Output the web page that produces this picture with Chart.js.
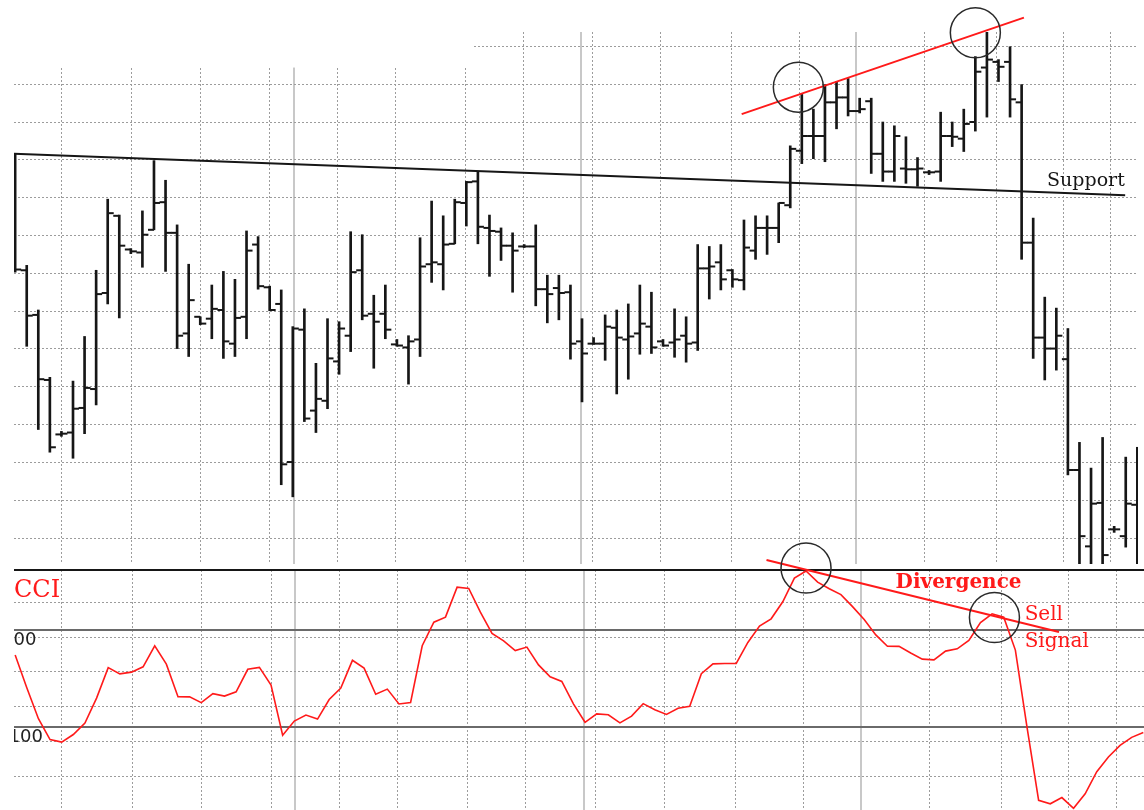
<!DOCTYPE html>
<html>
<head>
<meta charset="utf-8">
<title>Price bars with CCI divergence</title>
<script src="https://cdn.jsdelivr.net/npm/chart.js@4.4.1/dist/chart.umd.min.js"></script>
<style>
  html, body { margin: 0; padding: 0; background: #fff; }
  #wrap { position: relative; width: 1144px; height: 810px; overflow: hidden; }
  #priceChart { position: absolute; left: 0; top: 0; }
  #cciChart { position: absolute; left: 0; top: 520px; }
</style>
</head>
<body>
<div id="wrap">
  <canvas id="priceChart" width="1144" height="570"></canvas>
  <canvas id="cciChart" width="1144" height="290"></canvas>
</div>
<script>
// daily bars, index 0..97
const highs = [111.6, 82.1, 70.3, 52.5, 38.2, 51.5, 63.3, 80.8, 99.6, 95.4,
  86.5, 96.5, 109.8, 104.6, 92.8, 82.4, 68.5, 76.9, 80.5, 78.4,
  91.2, 89.7, 76.6, 75.6, 65.9, 70.6, 56.2, 68.0, 67.2, 91.0,
  90.2, 74.2, 76.9, 62.5, 63.5, 89.4, 99.1, 95.2, 99.6, 104.3,
  106.9, 95.4, 92.0, 90.7, 87.6, 92.8, 79.5, 79.5, 76.9, 68.0,
  63.0, 69.0, 70.3, 71.9, 76.9, 75.0, 62.5, 70.6, 68.5, 87.6,
  87.1, 87.6, 81.0, 94.1, 95.2, 95.2, 98.6, 113.7, 127.3, 123.4,
  129.9, 130.7, 131.5, 126.3, 126.3, 120.0, 119.0, 116.1, 110.6, 107.2,
  122.6, 120.0, 123.4, 137.3, 144.3, 136.5, 139.9, 129.9, 94.6, 73.7,
  70.8, 65.4, 35.3, 28.5, 36.6, 13.1, 31.4, 34.0];
const lows = [80.3, 60.7, 38.7, 32.7, 36.9, 31.1, 37.6, 45.2, 71.9, 68.2,
  85.2, 81.6, 91.5, 80.5, 60.1, 58.0, 66.4, 62.7, 57.5, 58.0,
  62.7, 75.8, 70.1, 24.1, 20.9, 40.8, 37.9, 44.2, 53.3, 59.3,
  67.7, 54.9, 62.7, 60.7, 50.7, 58.0, 77.6, 75.6, 87.8, 92.5,
  87.8, 79.2, 83.4, 75.0, 86.8, 71.4, 66.9, 67.7, 57.3, 46.0,
  61.2, 57.0, 48.1, 52.0, 58.6, 58.8, 60.7, 57.8, 56.5, 59.6,
  73.2, 75.6, 76.3, 75.6, 83.7, 85.0, 88.1, 97.3, 109.0, 110.3,
  109.5, 118.2, 121.6, 122.4, 106.4, 104.3, 104.3, 103.8, 103.0, 106.1,
  104.3, 113.5, 112.2, 117.6, 121.3, 130.7, 121.3, 83.7, 57.5, 51.8,
  54.4, 26.7, 0.5, 0.2, 0.5, 11.5, 7.6, 0.5];
const opens = [110.9, 80.8, 69.0, 51.8, 37.4, 37.9, 44.4, 49.4, 74.8, 95.2,
  86.3, 85.5, 91.5, 98.8, 90.7, 64.1, 68.5, 68.0, 70.3, 61.4,
  68.5, 87.6, 76.3, 71.9, 30.1, 65.1, 43.7, 46.3, 56.7, 63.5,
  80.8, 69.3, 69.3, 61.2, 60.4, 62.5, 82.4, 82.4, 87.8, 98.6,
  104.3, 92.0, 91.0, 87.3, 87.1, 87.1, 75.8, 76.1, 75.0, 62.0,
  61.4, 61.4, 65.6, 62.5, 64.1, 65.9, 62.0, 61.7, 63.5, 61.7,
  81.3, 82.9, 80.8, 78.2, 86.0, 92.0, 92.0, 98.0, 112.4, 116.3,
  116.3, 125.2, 126.5, 122.9, 125.5, 111.6, 106.9, 107.7, 107.5, 106.7,
  106.9, 116.3, 115.6, 120.0, 134.4, 135.9, 135.9, 125.2, 88.1, 63.0,
  60.1, 57.3, 28.0, 7.8, 19.3, 12.3, 10.5, 18.8];
const closes = [81.0, 68.8, 52.0, 34.0, 37.6, 44.2, 49.7, 74.5, 95.9, 87.3,
  85.8, 90.2, 98.6, 90.7, 63.5, 72.9, 66.7, 70.6, 62.0, 68.2,
  86.0, 76.6, 70.3, 29.5, 65.4, 41.6, 46.8, 57.5, 65.4, 80.3,
  68.8, 67.2, 65.1, 60.9, 62.0, 81.8, 82.9, 87.6, 98.8, 104.1,
  92.3, 91.2, 87.3, 86.0, 87.1, 75.8, 74.5, 74.8, 61.4, 58.8,
  61.4, 65.9, 63.0, 63.3, 66.7, 60.4, 60.9, 62.5, 61.4, 81.3,
  81.8, 78.4, 78.4, 86.8, 92.0, 92.0, 98.6, 112.9, 116.3, 116.3,
  125.2, 126.5, 122.9, 123.4, 111.6, 106.9, 116.3, 107.5, 107.7, 106.7,
  116.3, 116.1, 119.5, 133.3, 136.5, 134.6, 126.0, 88.1, 63.0, 60.1,
  63.5, 28.0, 10.5, 19.1, 5.5, 12.3, 19.1, 5.8];

// commodity channel index, same bars
const cci = [48.5, -19, -82.7, -125.8, -130.9, -115.3, -91.8, -40.2, 22.7, 9.7,
  13.4, 24.3, 67.4, 29.9, -37.5, -37.7, -49.5, -31.1, -36.1, -27.2,
  19.2, 23.1, -13.4, -116.9, -87.6, -75.3, -83.5, -43.1, -19.4, 37.7,
  21.7, -32.4, -21.7, -52.4, -49.3, 67.8, 116.3, 126.8, 188.5, 186,
  137.1, 93.4, 77.9, 57.9, 65, 28.2, 3.9, -5.8, -52, -90.1,
  -72.8, -74.6, -91.3, -77.3, -51.6, -64.1, -73.8, -61.2, -57.1, 10.3,
  30.3, 31.1, 31.3, 74.6, 108.5, 123.3, 158.4, 207.2, 222, 199,
  185.2, 173.2, 148.5, 122.1, 90.1, 66.6, 66.4, 52.8, 40.2, 38.6,
  56.7, 61.4, 78.8, 115.5, 133.6, 126.8, 58.8, -100, -251.1, -258.2,
  -245.4, -267.6, -237.7, -192, -161.5, -137.7, -121.2, -111.3];

// grid positions (bar index / value)
const weekGrid = [4.0, 10.1, 16.0, 22.0, 27.9, 32.9, 38.9, 43.9, 49.9, 55.8, 61.9, 67.8, 78.6, 84.8, 90.6, 94.7];
const monthGrid = [24.1, 48.9, 72.7];
const priceGrid = [10, 20, 30, 40, 50, 60, 70, 80, 90, 100, 110, 120, 130, 140];
const cciGrid = [156, 85, 14, -58, -130, -201];
const cciLevels = [100, -100];

// drawn studies, [bar index, value]
const supportLine = [[-0.1, 111.6], [95.95, 100.65]];
const topTrend = [[62.8, 122.1], [87.2, 147.6]];
const topCircles = [[67.7, 129.2], [83.0, 143.6]];
const cciTrend = [[64.6, 244.6], [89.75, 96.1]];
const cciCircles = [[68.0, 228.1], [84.2, 126.0]];

const INK = '#161616';
const RED = '#ff1a1a';
const GRID = '#9c9c9c';
const tickShift = 0.26;

const isMonth = c => c.tick && monthGrid.includes(c.tick.value);

function xAxis() {
  return {
    type: 'linear', min: -0.1, max: 97.06,
    offset: false,
    afterBuildTicks: s => { s.ticks = weekGrid.concat(monthGrid).sort((a, b) => a - b).map(v => ({value: v})); },
    ticks: {display: false},
    grid: {
      offset: false,
      drawTicks: false,
      color: c => isMonth(c) ? '#c8c8c8' : GRID,
      lineWidth: c => isMonth(c) ? 2 : 1
    },
    border: {display: false, dash: c => isMonth(c) ? [] : [2, 2]}
  };
}

const overlay = {
  id: 'overlay',
  beforeDatasetsDraw(chart, args, opts) {
    if (!opts.cover) return;
    const {ctx, chartArea} = chart;
    const x = chart.scales.x.getPixelForValue(opts.cover[0]);
    const y = chart.scales.y.getPixelForValue(opts.cover[1]);
    ctx.save();
    ctx.fillStyle = '#fff';
    ctx.fillRect(chartArea.left - 1, chartArea.top - 1, x - chartArea.left + 1, y - chartArea.top + 1);
    ctx.restore();
  },
  afterDraw(chart, args, opts) {
    const {ctx, chartArea} = chart;
    const px = v => chart.scales.x.getPixelForValue(v);
    const py = v => chart.scales.y.getPixelForValue(v);
    ctx.save();
    if (opts.topRule) {
      ctx.strokeStyle = INK;
      ctx.lineWidth = 2;
      ctx.beginPath();
      ctx.moveTo(chartArea.left, chartArea.top);
      ctx.lineTo(chartArea.right, chartArea.top);
      ctx.stroke();
    }
    (opts.lines || []).forEach(l => {
      ctx.strokeStyle = l.color;
      ctx.lineWidth = l.width;
      ctx.beginPath();
      ctx.moveTo(px(l.pts[0][0]), py(l.pts[0][1]));
      ctx.lineTo(px(l.pts[1][0]), py(l.pts[1][1]));
      ctx.stroke();
    });
    (opts.circles || []).forEach(c => {
      ctx.strokeStyle = '#2a2a2a';
      ctx.lineWidth = 1.5;
      ctx.beginPath();
      ctx.arc(px(c[0]), py(c[1]), 25, 0, Math.PI * 2);
      ctx.stroke();
    });
    (opts.texts || []).forEach(t => {
      ctx.font = t.font;
      ctx.fillStyle = t.color;
      ctx.textAlign = 'left';
      ctx.textBaseline = 'alphabetic';
      ctx.fillText(t.text, px(t.at[0]), py(t.at[1]));
    });
    if (opts.levelLabels) {
      ctx.beginPath();
      ctx.rect(chartArea.left, chartArea.top, chartArea.right - chartArea.left, chartArea.bottom - chartArea.top);
      ctx.clip();
      ctx.font = '18px "DejaVu Sans"';
      ctx.fillStyle = '#222';
      ctx.textAlign = 'left';
      ctx.textBaseline = 'alphabetic';
      opts.levelLabels.forEach(v => ctx.fillText(String(v), chartArea.left - 12, py(v) + 15));
    }
    ctx.restore();
  }
};

new Chart(document.getElementById('priceChart'), {
  type: 'bar',
  data: {
    datasets: [
      {
        type: 'bar',
        data: highs.map((h, i) => ({x: i, y: [lows[i], h]})),
        backgroundColor: INK,
        borderWidth: 0,
        barThickness: 2
      },
      {
        type: 'line', showLine: false,
        data: opens.map((v, i) => ({x: i - tickShift, y: v})),
        pointStyle: 'line', pointRadius: 3, pointBorderWidth: 2,
        pointBorderColor: INK, pointBackgroundColor: INK
      },
      {
        type: 'line', showLine: false,
        data: closes.map((v, i) => ({x: i + tickShift, y: v})),
        pointStyle: 'line', pointRadius: 3, pointBorderWidth: 2,
        pointBorderColor: INK, pointBackgroundColor: INK
      }
    ]
  },
  options: {
    responsive: false,
    devicePixelRatio: 1,
    animation: false,
    events: [],
    layout: {padding: {left: 14, top: 32, right: 0, bottom: 0}},
    scales: {
      x: xAxis(),
      y: {
        type: 'linear', min: 3.14, max: 143.8,
        afterBuildTicks: s => { s.ticks = priceGrid.map(v => ({value: v})); },
        ticks: {display: false},
        grid: {drawTicks: false, color: GRID, lineWidth: 1},
        border: {display: false, dash: [2, 2]}
      }
    },
    plugins: {
      legend: {display: false},
      tooltip: {enabled: false},
      overlay: {
        cover: [39.6, 134.4],
        lines: [
          {pts: supportLine, color: INK, width: 2},
          {pts: topTrend, color: RED, width: 2}
        ],
        circles: topCircles,
        texts: [{text: 'Support', at: [89.2, 103.0], font: '19px "DejaVu Serif"', color: INK}]
      }
    }
  },
  plugins: [overlay]
});

new Chart(document.getElementById('cciChart'), {
  type: 'line',
  data: {
    datasets: [{
      label: 'CCI',
      data: cci.map((v, i) => ({x: i, y: v})),
      borderColor: RED,
      borderWidth: 1.6,
      pointRadius: 0,
      tension: 0
    }]
  },
  options: {
    responsive: false,
    devicePixelRatio: 1,
    animation: false,
    events: [],
    layout: {padding: {left: 14, top: 50, right: 0, bottom: 0}},
    scales: {
      x: xAxis(),
      y: {
        type: 'linear', min: -271, max: 224,
        afterBuildTicks: s => { s.ticks = cciGrid.concat(cciLevels).map(v => ({value: v})); },
        ticks: {display: false},
        grid: {
          drawTicks: false,
          color: c => (c.tick && cciLevels.includes(c.tick.value)) ? '#6a6a6a' : GRID,
          lineWidth: c => (c.tick && cciLevels.includes(c.tick.value)) ? 2 : 1
        },
        border: {display: false, dash: c => (c.tick && cciLevels.includes(c.tick.value)) ? [] : [2, 2]}
      }
    },
    plugins: {
      legend: {display: false},
      tooltip: {enabled: false},
      overlay: {
        topRule: true,
        lines: [{pts: cciTrend, color: RED, width: 2}],
        circles: cciCircles,
        texts: [
          {text: 'CCI', at: [-0.1, 168.3], font: '24px "DejaVu Serif"', color: RED},
          {text: 'Divergence', at: [75.7, 186.9], font: 'bold 20px "DejaVu Serif"', color: RED},
          {text: 'Sell', at: [86.8, 120.9], font: '20px "DejaVu Serif"', color: RED},
          {text: 'Signal', at: [86.8, 65.2], font: '20px "DejaVu Serif"', color: RED}
        ],
        levelLabels: cciLevels
      }
    }
  },
  plugins: [overlay]
});
</script>
</body>
</html>
